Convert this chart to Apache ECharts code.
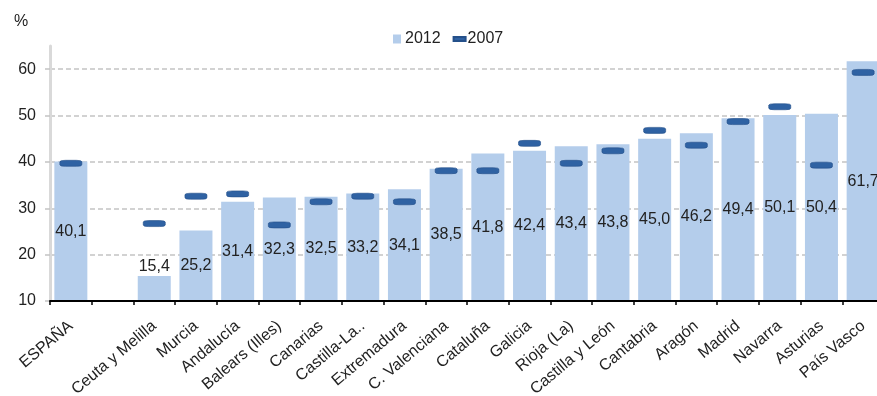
<!DOCTYPE html>
<html>
<head>
<meta charset="utf-8">
<script src="https://cdn.jsdelivr.net/npm/echarts@6/dist/echarts.min.js"></script>
<style>html,body{margin:0;padding:0;background:#fff}#c{width:877px;height:396px}</style>
</head>
<body>
<div id="c"></div>
<script>
const categories = ['ESPAÑA','','Ceuta y Melilla','Murcia','Andalucía','Balears (Illes)','Canarias','Castilla-La..','Extremadura','C. Valenciana','Cataluña','Galicia','Rioja (La)','Castilla y León','Cantabria','Aragón','Madrid','Navarra','Asturias','País Vasco'];
const values2012 = [40.1,null,15.4,25.2,31.4,32.3,32.5,33.2,34.1,38.5,41.8,42.4,43.4,43.8,45.0,46.2,49.4,50.1,50.4,61.7];
const values2007 = [39.7,null,26.7,32.6,33.1,26.4,31.4,32.6,31.4,38.1,38.1,44.0,39.7,42.4,46.8,43.6,48.7,51.9,39.3,59.3];
const yMin = 10, yMax = 65, yStep = 10;

const fmt = v => v.toFixed(1).replace('.', ',');
const barData = values2012.map(v => {
  if (v === null) return null;
  const item = { value: v };
  if (v < 20) item.label = { position: 'top', distance: 1 };
  return item;
});

const chart = echarts.init(document.getElementById('c'));
chart.setOption({
  animation: false,
  textStyle: { fontFamily: 'Liberation Sans, Arial, sans-serif' },
  title: { text: '%', left: 9, top: 9, textStyle: { fontSize: 16, fontWeight: 'normal', color: '#222' } },
  legend: {
    left: 388, top: 26, itemWidth: 12, itemHeight: 9, itemGap: 12,
    symbolKeepAspect: true,
    textStyle: { fontSize: 16, color: '#222', padding: [0, 0, 0, -3] },
    data: [
      { name: '2012', icon: 'path://M0,0H8V9H0Z' },
      { name: '2007', icon: 'path://M0,0H12V4H0Z' }
    ]
  },
  grid: { left: 50, top: 46, width: 834, bottom: 95, outerBoundsMode: 'none', containLabel: false },
  xAxis: {
    type: 'category', data: categories, boundaryGap: true, z: 5,
    axisLine: { lineStyle: { color: '#000', width: 2 } },
    axisTick: { show: true, interval: 0, length: 4, lineStyle: { color: '#000', width: 1.5 } },
    axisLabel: { interval: 0, rotate: 40, margin: 23, fontSize: 16, color: '#222' }
  },
  yAxis: {
    type: 'value', min: yMin, max: yMax, interval: yStep,
    axisLine: { show: true, lineStyle: { color: '#d9d9d9', width: 3 } },
    axisTick: { show: true, length: 5, lineStyle: { color: '#c4c4c4', width: 1.5 } },
    axisLabel: { fontSize: 16, color: '#222', margin: 14, showMaxLabel: false },
    splitLine: { show: true, showMaxLine: false, showMinLine: false, lineStyle: { color: '#c4c4c4', width: 1.5, type: [5, 3] } }
  },
  series: [
    {
      name: '2012', type: 'bar', data: barData, barWidth: 33,
      itemStyle: { color: '#b4cdeb' },
      label: { show: true, position: 'inside', fontSize: 16, color: '#222', formatter: p => fmt(p.value) },
      z: 2
    },
    {
      name: '2007', type: 'scatter', data: values2007,
      symbol: 'roundRect', symbolSize: [22, 6],
      itemStyle: { color: '#2f62a3', borderColor: '#24508a', borderWidth: 0.5, opacity: 1 },
      z: 3
    }
  ]
});
</script>
</body>
</html>
